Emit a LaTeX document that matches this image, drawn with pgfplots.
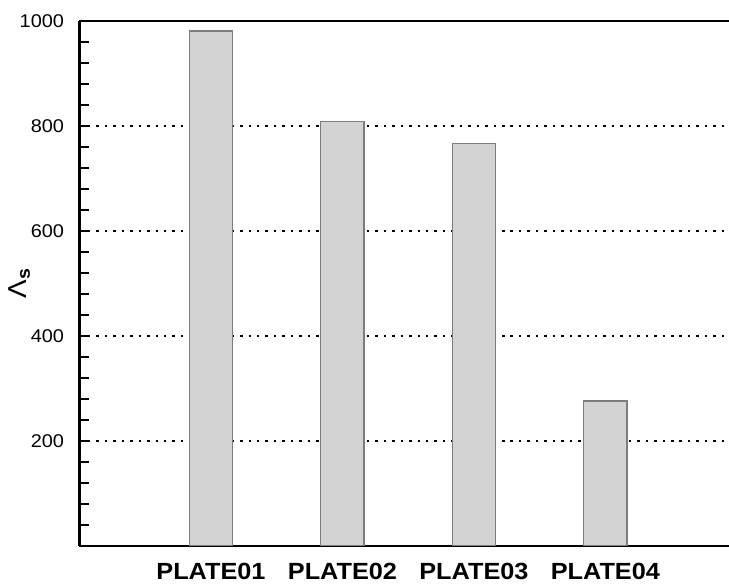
\documentclass[border=0pt]{standalone}
\usepackage{fontspec}
\setmainfont{Liberation Sans}[FakeStretch=1.08]
\usepackage{pgfplots}
\pgfplotsset{compat=1.18}

\definecolor{barfill}{RGB}{211,211,211}
\definecolor{baredge}{RGB}{125,125,125}

\begin{document}
\begin{tikzpicture}
\begin{axis}[
  scale only axis,
  width=649.5bp, height=525bp,
  xmin=0, xmax=4.94,
  ymin=0, ymax=1000,
  axis x line=box, axis y line=left,
  axis line style={line width=2.6bp, -},
  xtick={1,2,3,4},
  xticklabels={PLATE01,PLATE02,PLATE03,PLATE04},
  xtick style={draw=none},
  xticklabel style={font=\bfseries\fontsize{23.5}{28}\selectfont, inner sep=1bp, yshift=-7bp},
  ytick={200,400,600,800,1000},
  minor ytick={40,80,...,960},
  tick align=inside,
  major tick length=9bp, minor tick length=9bp,
  major tick style={line width=2.6bp, black},
  minor tick style={line width=1.3bp, black},
  /pgf/number format/assume math mode=true,
  /pgf/number format/1000 sep={},
  yticklabel style={font=\fontsize{18.5}{22}\selectfont, xshift=-12bp},
  ymajorgrids,
  major grid style={line width=2.5bp, black, dash pattern=on 2.5bp off 5.95bp},
  ylabel={Λ\textsubscript{\textbf{s}}},
  every axis y label/.style={at={(axis description cs:-0.093,0.5)}, anchor=center, rotate=90,
    font=\fontsize{26}{30}\selectfont},
  ybar, bar width=0.33,
]
\addplot[fill=barfill, draw=baredge, line width=1.4bp] coordinates {
  (1,981) (2,808) (3,767) (4,276)
};
\end{axis}
\pgfresetboundingbox
\path ([xshift=-79.5bp,yshift=-38bp]current axis.south west)
  rectangle ([yshift=21bp]current axis.north east);
\end{tikzpicture}
\end{document}
